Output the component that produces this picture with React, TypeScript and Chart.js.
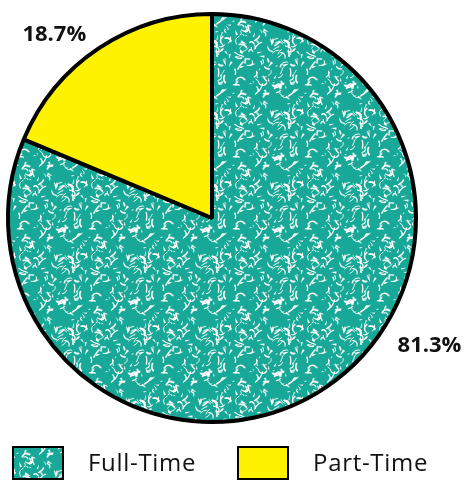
import React, { useEffect, useRef } from "react";
import { Chart, registerables } from "chart.js";

Chart.register(...registerables);

// Employment type split
const categories = ["Full-Time", "Part-Time"];
const shares = [81.3, 18.7];
const shareLabels = ["81.3%", "18.7%"];

const TEAL = "#17a898";
const YELLOW = "#fff200";
const INK = "#111111";
const FONT = "'Open Sans', 'DejaVu Sans', sans-serif";

// Seamless teal tile with short white squiggles and flakes
function makeSpeckle(): CanvasPattern | string {
  const size = 72;
  const c = document.createElement("canvas");
  c.width = size;
  c.height = size;
  const g = c.getContext("2d");
  if (!g) return TEAL;
  g.fillStyle = TEAL;
  g.fillRect(0, 0, size, size);
  let seed = 12345;
  const rnd = () => {
    seed = (seed * 16807) % 2147483647;
    return seed / 2147483647;
  };
  g.strokeStyle = "#ffffff";
  g.fillStyle = "#ffffff";
  g.lineCap = "round";
  const shifts = [-size, 0, size];
  for (let i = 0; i < 95; i++) {
    const x = rnd() * size;
    const y = rnd() * size;
    const a = rnd() * Math.PI * 2;
    const len = 3 + rnd() * 6;
    const x2 = x + Math.cos(a) * len;
    const y2 = y + Math.sin(a) * len;
    const bend = (rnd() - 0.5) * len * 1.2;
    const cx = (x + x2) / 2 - Math.sin(a) * bend;
    const cy = (y + y2) / 2 + Math.cos(a) * bend;
    const w = 0.7 + rnd() * 1.1;
    for (const dx of shifts) {
      for (const dy of shifts) {
        g.lineWidth = w;
        g.beginPath();
        g.moveTo(x + dx, y + dy);
        g.quadraticCurveTo(cx + dx, cy + dy, x2 + dx, y2 + dy);
        g.stroke();
      }
    }
  }
  for (let i = 0; i < 40; i++) {
    const x = rnd() * size;
    const y = rnd() * size;
    const a = rnd() * Math.PI * 2;
    const r = 1.2 + rnd() * 2.2;
    for (const dx of shifts) {
      for (const dy of shifts) {
        g.beginPath();
        g.moveTo(x + dx + Math.cos(a) * r * 1.6, y + dy + Math.sin(a) * r * 1.6);
        g.lineTo(x + dx + Math.cos(a + 2.4) * r * 0.6, y + dy + Math.sin(a + 2.4) * r * 0.6);
        g.lineTo(x + dx + Math.cos(a - 2.4) * r * 0.6, y + dy + Math.sin(a - 2.4) * r * 0.6);
        g.closePath();
        g.fill();
      }
    }
  }
  return g.createPattern(c, "repeat") || TEAL;
}

// Percentage labels placed around each slice
const shareLabelsPlugin = {
  id: "shareLabels",
  afterDatasetsDraw(chart: any) {
    const meta = chart.getDatasetMeta(0);
    const ctx = chart.ctx;
    const place = [
      { turn: -26, dist: 252 },
      { turn: -7, dist: 242 },
    ];
    ctx.save();
    ctx.font = `700 22px ${FONT}`;
    ctx.fillStyle = INK;
    ctx.textAlign = "center";
    ctx.textBaseline = "middle";
    meta.data.forEach((arc: any, i: number) => {
      const mid = (arc.startAngle + arc.endAngle) / 2 + (place[i].turn * Math.PI) / 180;
      const x = arc.x + Math.cos(mid) * place[i].dist;
      const y = arc.y + Math.sin(mid) * place[i].dist;
      ctx.fillText(shareLabels[i], x, y);
    });
    ctx.restore();
  },
};

// Legend row drawn below the pie
const legendRowPlugin = {
  id: "legendRow",
  afterDraw(chart: any) {
    const ctx = chart.ctx;
    const ds = chart.data.datasets[0];
    const boxX = [13, 238];
    const boxY = 447;
    const boxW = 50;
    const boxH = 32;
    ctx.save();
    chart.data.labels.forEach((label: string, i: number) => {
      ctx.fillStyle = ds.backgroundColor[i];
      ctx.fillRect(boxX[i], boxY, boxW, boxH);
      ctx.strokeStyle = "#000";
      ctx.lineWidth = 2;
      ctx.strokeRect(boxX[i], boxY, boxW, boxH);
      ctx.fillStyle = INK;
      ctx.font = `400 24px ${FONT}`;
      (ctx as any).letterSpacing = "0.7px";
      ctx.textAlign = "left";
      ctx.textBaseline = "middle";
      ctx.fillText(label, boxX[i] + 75, boxY + boxH / 2 + 1);
    });
    ctx.restore();
  },
};

export default function App() {
  const ref = useRef<HTMLCanvasElement | null>(null);

  useEffect(() => {
    if (!ref.current) return;
    const speckle = makeSpeckle();
    const chart = new Chart(ref.current, {
      type: "pie",
      data: {
        labels: categories,
        datasets: [
          {
            data: shares,
            backgroundColor: [speckle as any, YELLOW],
            borderColor: "#000000",
            borderWidth: 4,
          },
        ],
      },
      options: {
        responsive: false,
        animation: false,
        radius: 204,
        layout: { padding: { left: 0, right: 43, top: 0, bottom: 45 } },
        plugins: {
          legend: { display: false },
          tooltip: { enabled: false },
        },
      } as any,
      plugins: [shareLabelsPlugin, legendRowPlugin],
    });
    return () => chart.destroy();
  }, []);

  return (
    <div style={{ position: "fixed", left: 0, top: 0, width: 467, height: 481, background: "#fff" }}>
      <canvas ref={ref} width={467} height={481} style={{ width: 467, height: 481, display: "block" }} />
    </div>
  );
}
